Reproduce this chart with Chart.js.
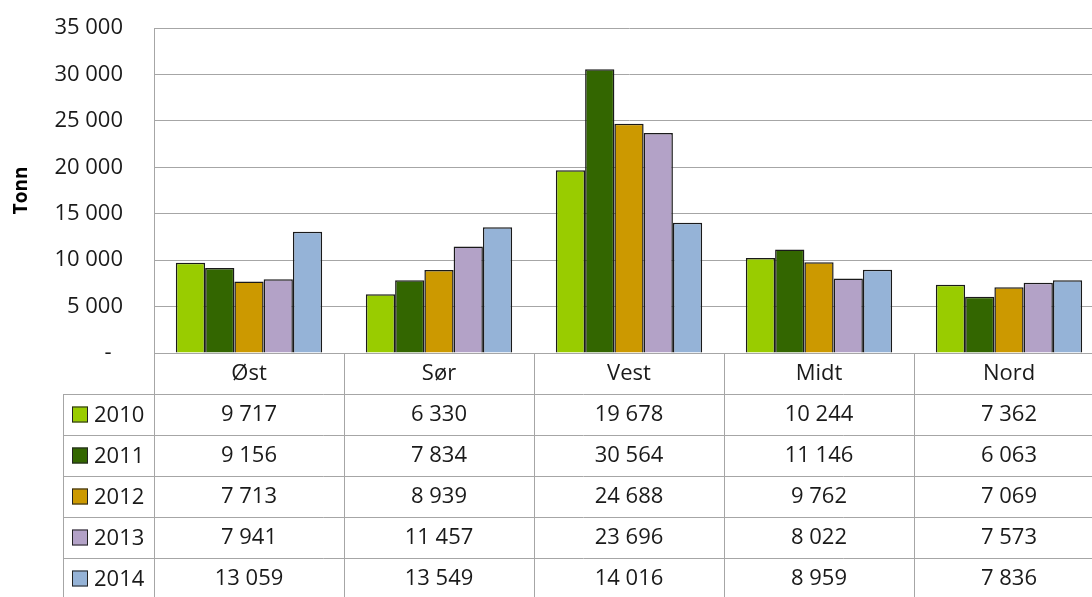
<!DOCTYPE html>
<html>
<head>
<meta charset="utf-8">
<script src="https://cdn.jsdelivr.net/npm/chart.js@4/dist/chart.umd.min.js"></script>
<style>
  html, body { margin: 0; padding: 0; background: #fff; overflow: hidden; }
  #wrap { position: relative; width: 1110px; height: 597px; }
</style>
</head>
<body>
<div id="wrap"><canvas id="chart"></canvas></div>
<script>
const regions = ['Øst', 'Sør', 'Vest', 'Midt', 'Nord'];
const years = ['2010', '2011', '2012', '2013', '2014'];
const colors = ['#99cc00', '#336600', '#cc9900', '#b3a2c7', '#95b3d7'];

const v2010 = [9717, 6330, 19678, 10244, 7362];
const v2011 = [9156, 7834, 30564, 11146, 6063];
const v2012 = [7713, 8939, 24688, 9762, 7069];
const v2013 = [7941, 11457, 23696, 8022, 7573];
const v2014 = [13059, 13549, 14016, 8959, 7836];
const series = [v2010, v2011, v2012, v2013, v2014];

const FONT = '"Open Sans", sans-serif';
const lineColor = '#a6a6a6';

const fmt = n => n === 0 ? '-  ' : String(n).replace(/\B(?=(\d{3})+(?!\d))/g, ' ');

// data table under the plot
const tablePlugin = {
  id: 'dataTable',
  afterDraw(chart) {
    const { ctx, chartArea } = chart;
    const xs = chart.scales.x;
    const catW = (chartArea.right - chartArea.left) / regions.length;
    const top = chartArea.bottom;
    const rowH = 41;
    const legendLeft = 63;
    const right = chartArea.right;

    ctx.save();
    ctx.strokeStyle = lineColor;
    ctx.lineWidth = 1;

    // horizontal lines
    ctx.beginPath();
    ctx.moveTo(chartArea.left, top + 0.5);
    ctx.lineTo(right, top + 0.5);
    for (let r = 1; r <= years.length; r++) {
      const y = Math.round(top + r * rowH) + 0.5;
      ctx.moveTo(legendLeft, y);
      ctx.lineTo(right, y);
    }
    // vertical lines
    ctx.moveTo(legendLeft + 0.5, top + rowH);
    ctx.lineTo(legendLeft + 0.5, 597);
    for (let c = 0; c <= regions.length; c++) {
      const x = Math.round(chartArea.left + c * catW) + 0.5;
      ctx.moveTo(x, top);
      ctx.lineTo(x, 597);
    }
    ctx.stroke();

    ctx.fillStyle = '#1a1a1a';
    ctx.font = '22px ' + FONT;
    ctx.textBaseline = 'middle';
    ctx.textAlign = 'center';
    regions.forEach((name, i) => {
      const cx = xs.getPixelForValue(i);
      ctx.fillText(name, cx, top + rowH / 2);
      series.forEach((vals, r) => {
        ctx.fillText(fmt(vals[i]), cx, top + rowH * (r + 1) + rowH / 2);
      });
    });

    // legend keys
    ctx.textAlign = 'left';
    years.forEach((yr, r) => {
      const cy = top + rowH * (r + 1) + rowH / 2;
      ctx.fillStyle = colors[r];
      ctx.fillRect(72, cy - 8, 16, 16);
      ctx.strokeStyle = '#222';
      ctx.strokeRect(72.5, cy - 7.5, 15, 15);
      ctx.fillStyle = '#1a1a1a';
      ctx.fillText(yr, 94, cy + 1);
    });
    ctx.restore();
  }
};

new Chart(document.getElementById('chart'), {
  type: 'bar',
  data: {
    labels: regions,
    datasets: years.map((yr, i) => ({
      label: yr,
      data: series[i],
      backgroundColor: colors[i],
      borderColor: '#1a1a1a',
      borderWidth: 1.5,
      categoryPercentage: 0.77,
      barPercentage: 1
    }))
  },
  options: {
    responsive: true,
    maintainAspectRatio: false,
    animation: false,
    layout: { padding: { top: 28, right: 6, bottom: 244, left: 0 } },
    plugins: {
      legend: { display: false },
      tooltip: { enabled: false }
    },
    scales: {
      x: { display: false },
      y: {
        min: 0,
        max: 35000,
        afterFit: scale => {
          scale.width = 154;
          scale.paddingTop = 0;
          scale.paddingBottom = 0;
        },
        border: { display: true, color: lineColor },
        grid: { color: lineColor, drawTicks: false },
        ticks: {
          stepSize: 5000,
          padding: 31,
          color: '#1a1a1a',
          font: { family: FONT, size: 22 },
          callback: v => fmt(v)
        },
        title: {
          display: true,
          text: 'Tonn',
          color: '#000',
          font: { family: FONT, size: 19, weight: 'bold' },
          padding: { top: 10, bottom: 0 }
        }
      }
    }
  },
  plugins: [tablePlugin]
});
</script>
</body>
</html>
